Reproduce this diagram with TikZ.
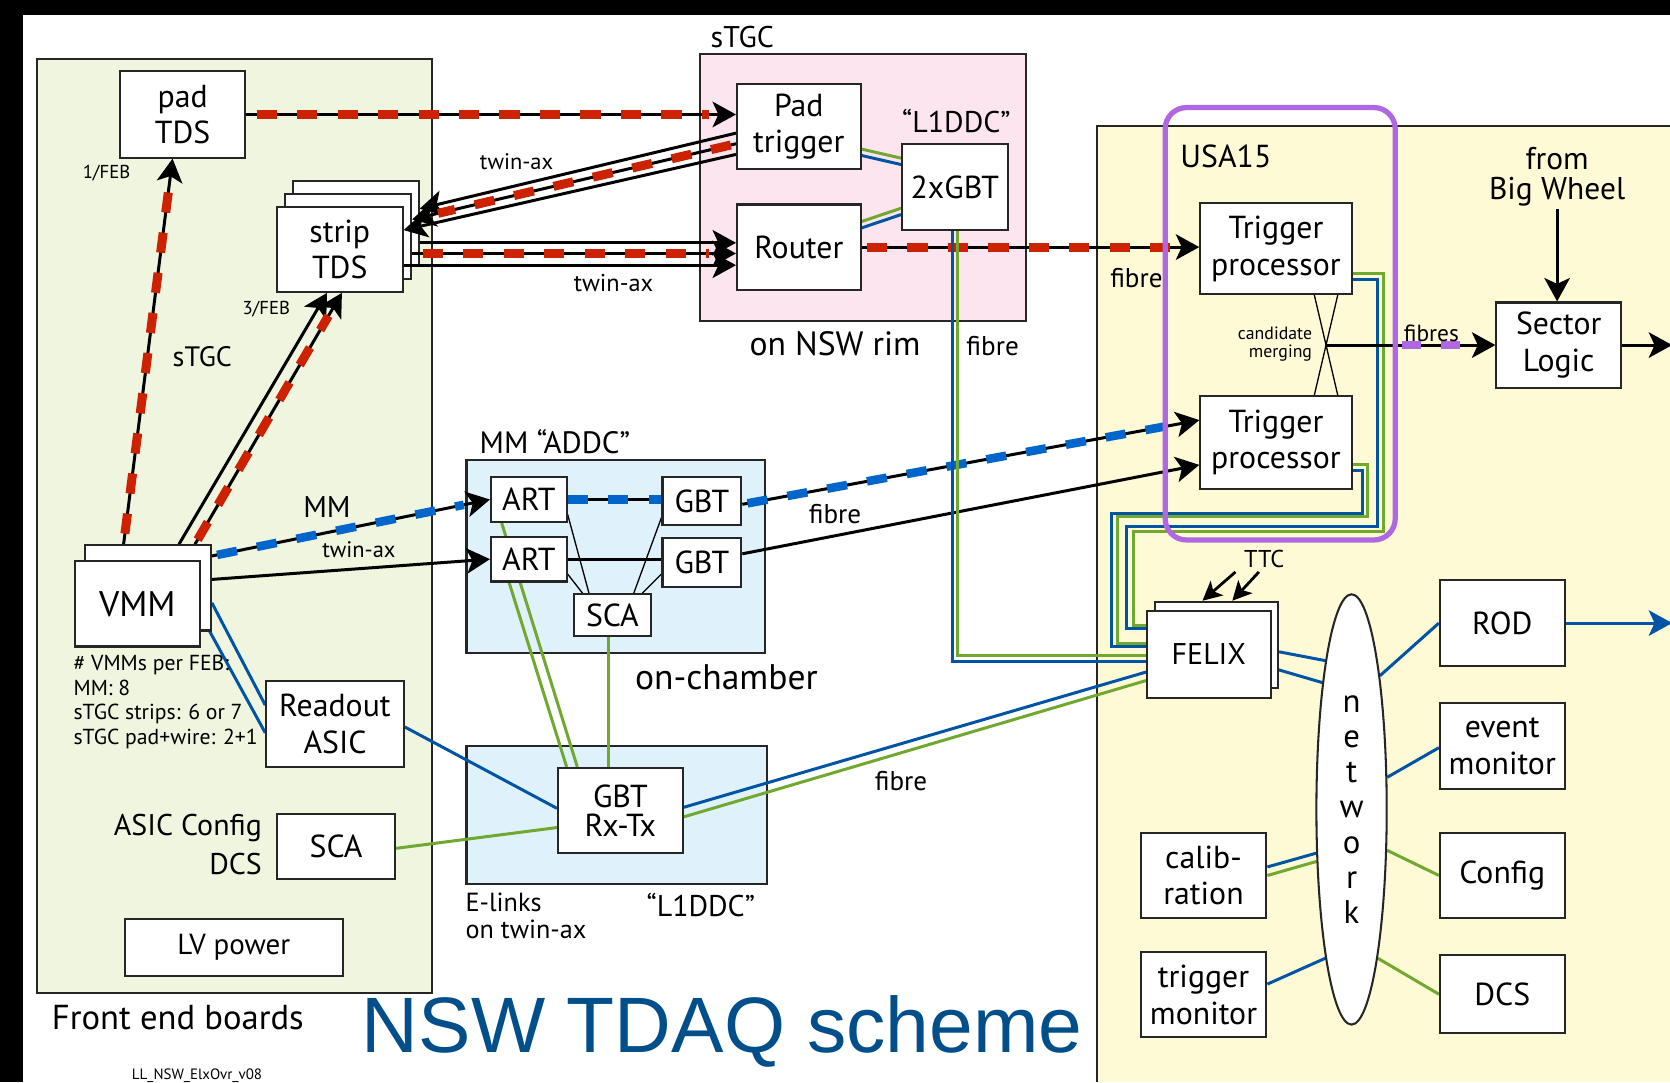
\documentclass[tikz,border=0pt]{standalone}
\usepackage{fontspec}
\setmainfont{PT Sans}
\newfontfamily\titlefont{Liberation Sans}
\usepackage{tikz}
\usetikzlibrary{arrows.meta,shapes.geometric,calc}
\definecolor{febgreen}{RGB}{239,245,222}
\definecolor{stgcpink}{RGB}{252,229,238}
\definecolor{chamberblue}{RGB}{223,242,251}
\definecolor{usayellow}{RGB}{255,250,214}
\definecolor{linkblue}{RGB}{0,84,166}
\definecolor{linkgreen}{RGB}{112,168,48}
\definecolor{dashred}{RGB}{204,34,0}
\definecolor{dashblue}{RGB}{0,102,204}
\definecolor{mergepurple}{RGB}{176,104,226}
\definecolor{titleblue}{RGB}{0,78,138}
\pgfdeclarelayer{groups}
\pgfdeclarelayer{wires}
\pgfsetlayers{groups,wires,main}
\tikzstyle{groupbox} = [draw=black!85, line width=1.1pt]
\tikzstyle{arrow} = [line width=1.6pt, -{Stealth[length=0.44cm,width=0.48cm,inset=0.11cm]}]
\tikzstyle{ttcarrow} = [line width=1.5pt, -{Stealth[length=0.36cm,width=0.36cm,inset=0.09cm]}]
\tikzstyle{wire} = [line width=1.6pt]
\tikzstyle{thinwire} = [line width=0.7pt]
\tikzstyle{reddash} = [dashred, line width=4.8pt, dash pattern=on 0.38cm off 0.38cm]
\tikzstyle{bluedash} = [dashblue, line width=4.6pt, dash pattern=on 0.38cm off 0.38cm]
\tikzstyle{purpledash} = [mergepurple, line width=4.4pt, dash pattern=on 0.36cm off 0.38cm]
\tikzstyle{fibreb} = [linkblue, line width=1.6pt]
\tikzstyle{fibreg} = [linkgreen, line width=1.6pt]
\tikzstyle{lbl} = [inner sep=1pt, align=center, font=\fontsize{16}{19}\selectfont]
\tikzset{module/.style 2 args={draw=black!85, fill=white, line width=1.1pt, inner sep=0pt, align=center,
  font=\fontsize{17}{19.5}\selectfont, minimum width=#1*0.02cm, minimum height=#2*0.02cm}}

\begin{document}
\begin{tikzpicture}[x=0.02cm, y=-0.02cm]
\useasboundingbox (0,0) rectangle (1568,1016);

% Frames and background
\begin{pgfonlayer}{groups}
\fill[white] (0,0) rectangle (1568,1016);
\fill[black] (0,0) rectangle (1568,14);
\fill[black] (0,0) rectangle (22,1016);
\draw[groupbox, fill=febgreen] (35,55) rectangle (406,932);
\draw[groupbox, fill=stgcpink] (657,51) rectangle (963,301);
\draw[groupbox, fill=chamberblue] (438,432) rectangle (718,613);
\draw[groupbox, fill=chamberblue] (438,700) rectangle (720,830);
\fill[usayellow] (1030,118) rectangle (1568,1016);
\draw[groupbox] (1030,1016) -- (1030,118) -- (1568,118);
\end{pgfonlayer}

% Front end boards
\node[module={117}{81}] (padtds) at (171.5,107.5) {pad\\TDS};
\node[module={118}{80}] (stripc) at (334,210) {};
\node[module={118}{80}] (stripb) at (327,222) {};
\node[module={118}{80}] (strip) at (319,234) {strip\\TDS};
\node[module={118}{80}] (vmmb) at (139,552) {};
\node[module={118}{80}, font=\fontsize{19}{22}\selectfont] (vmm) at (129,567) {VMM};
\node[module={129}{81}] (readout) at (314.5,679.5) {Readout\\ASIC};
\node[module={111}{61}] (febsca) at (315.5,794.5) {SCA};
\node[module={205}{53}, font=\fontsize{15.5}{18}\selectfont] (lvpower) at (219.5,889.5) {LV power};

\node[lbl, font=\fontsize{10}{12}\selectfont] (onefeb) at (100,163) {1/FEB};
\node[lbl, font=\fontsize{10}{12}\selectfont] (threefeb) at (250,290) {3/FEB};
\node[lbl, font=\fontsize{15}{18}\selectfont] (stgcwire) at (190,335) {sTGC};
\node[lbl] (mmwire) at (307,476) {MM};
\node[lbl, font=\fontsize{12}{14}\selectfont] (twinaxmm) at (337,516) {twin-ax};
\node[lbl, anchor=north west, align=left, font=\fontsize{11.6}{13.1}\selectfont] (vmmcount) at (67,613)
  {\# VMMs per FEB:\\MM: 8\\sTGC strips: 6 or 7\\sTGC pad+wire: 2+1};
\node[lbl, anchor=east, align=right, font=\fontsize{16}{21}\selectfont] (asiccfg) at (248,793) {ASIC Config\\DCS};
\node[lbl, font=\fontsize{18.5}{21}\selectfont] (feblbl) at (167,955) {Front end boards};
\node[lbl, font=\fontsize{8}{9}\selectfont] (version) at (185,1010) {LL\_NSW\_ElxOvr\_v08};
\node[lbl, font=\titlefont\fontsize{42}{46}\selectfont, text=titleblue] (title) at (678,968) {NSW TDAQ scheme};

% sTGC on NSW rim
\node[module={116}{80}] (padtrig) at (750,119) {Pad\\trigger};
\node[module={116}{80}] (router) at (750,232) {Router};
\node[module={99}{81}] (twogbt) at (896.5,175.5) {2xGBT};
\node[lbl] (stgclbl) at (697,35) {sTGC};
\node[lbl] (lddctop) at (898,114) {“L1DDC”};
\node[lbl, font=\fontsize{18}{21}\selectfont] (rimlbl) at (784,323) {on NSW rim};
\node[lbl, font=\fontsize{14.5}{16}\selectfont] (fibrerim) at (932,325) {fibre};
\node[lbl, font=\fontsize{12}{14}\selectfont] (twinaxup) at (485,152) {twin-ax};
\node[lbl, font=\fontsize{13}{15}\selectfont] (twinaxlow) at (576,266) {twin-ax};

% MM on chamber
\node[module={71}{42}] (arta) at (496.5,469) {ART};
\node[module={71}{42}] (artb) at (496.5,525) {ART};
\node[module={74}{45}] (gbta) at (659,470.5) {GBT};
\node[module={74}{46}] (gbtb) at (659,528) {GBT};
\node[module={72}{39}] (addcsca) at (575,577.5) {SCA};
\node[module={117}{80}, font=\fontsize{17}{15.5}\selectfont] (gbtrx) at (582.5,761) {GBT\\Rx-Tx};
\node[lbl, font=\fontsize{16.5}{19}\selectfont] (addclbl) at (521,415) {MM “ADDC”};
\node[lbl, font=\fontsize{19}{22}\selectfont] (chamberlbl) at (682,636) {on-chamber};
\node[lbl, anchor=north west, align=left, font=\fontsize{14}{14.5}\selectfont] (elinks) at (435,836) {E-links\\on twin-ax};
\node[lbl] (lddcbot) at (658,850) {“L1DDC”};
\node[lbl, font=\fontsize{14.5}{16}\selectfont] (fibremm) at (784,483) {fibre};
\node[lbl, font=\fontsize{14.5}{16}\selectfont] (fibrerx) at (846,733) {fibre};

% USA15
\node[module={142}{85}] (tpa) at (1198,233.5) {Trigger\\processor};
\node[module={142}{87}] (tpb) at (1198,415.5) {Trigger\\processor};
\node[module={117}{80}] (sl) at (1463.5,324) {Sector\\Logic};
\node[module={116}{81}] (felixb) at (1142,605.5) {};
\node[module={116}{81}, font=\fontsize{16}{19}\selectfont] (felix) at (1135,614.5) {FELIX};
\node[draw=black!85, fill=white, ellipse, line width=1.1pt, inner sep=0pt, align=center,
  minimum width=66*0.02cm, minimum height=404*0.02cm, font=\fontsize{17.5}{18.8}\selectfont]
  (net) at (1269,760) {n\\e\\t\\w\\o\\r\\k};
\node[module={117}{80}] (rod) at (1410.5,585) {ROD};
\node[module={117}{81}] (evmon) at (1410.5,700.5) {event\\monitor};
\node[module={117}{80}] (config) at (1410.5,822) {Config};
\node[module={117}{73}] (dcs) at (1410.5,933.5) {DCS};
\node[module={118}{80}] (calib) at (1130,822) {calib-\\ration};
\node[module={118}{80}] (trigmon) at (1130,934) {trigger\\monitor};
\node[lbl, font=\fontsize{17}{20}\selectfont] (usalbl) at (1151,147) {USA15};
\node[lbl, font=\fontsize{14.5}{16}\selectfont] (fibreusa) at (1067,261) {fibre};
\node[lbl, anchor=east, align=right, font=\fontsize{9.5}{9.8}\selectfont] (mergelbl) at (1234,323) {candidate\\merging};
\node[lbl, font=\fontsize{12.5}{14}\selectfont] (fibressl) at (1344,313) {fibres};
\node[lbl, font=\fontsize{16.8}{16.5}\selectfont] (bigwheel) at (1462,166) {from\\Big Wheel};
\node[lbl, font=\fontsize{13}{15}\selectfont] (ttclbl) at (1187,525) {TTC};
\coordinate (merge) at (1246,324);
\coordinate (ttca) at (1160,537);
\coordinate (ttcb) at (1182,537);
\coordinate (slout) at (1570,324);
\coordinate (rodout) at (1570,585);
\coordinate (scafoot) at ($(addcsca.south)+(-4,0)$);

\draw[mergepurple, line width=2.8pt, rounded corners=0.4cm] (1094,101) rectangle (1310,507);

% Strip TDS links, over the stacked boxes
\draw[arrow] ($(padtrig.west)+(0,6)$) -- ($(stripc.east)+(0,-14)$);
\draw[arrow] ($(padtrig.west)+(0,16)$) -- ($(stripb.east)+(0,-16)$);
\draw[reddash, shorten <=0.1cm, shorten >=0.5cm] ($(padtrig.west)+(0,16)$) -- ($(stripb.east)+(0,-16)$);
\draw[arrow] ($(padtrig.west)+(0,26)$) -- ($(strip.east)+(0,-18)$);
\draw[arrow] ($(stripc.east)+(0,18)$) -- ($(router.west)+(0,-4)$);
\draw[arrow] ($(stripb.east)+(0,16)$) -- ($(router.west)+(0,6)$);
\draw[reddash, shorten <=0.2cm, shorten >=0.5cm] ($(stripb.east)+(0,16)$) -- ($(router.west)+(0,6)$);
\draw[arrow] ($(strip.east)+(0,15)$) -- ($(router.west)+(0,17)$);

\begin{pgfonlayer}{wires}
% sTGC trigger path
\draw[arrow] (padtds.east) -- (padtds.east -| padtrig.west);
\draw[reddash, shorten <=0.2cm, shorten >=0.5cm] (padtds.east) -- (padtds.east -| padtrig.west);
\draw[arrow] (router.east) -- (router.east -| tpa.west);
\draw[reddash, shorten <=0.1cm, shorten >=0.5cm] (router.east) -- (router.east -| tpa.west);

% VMM outputs
\draw[arrow] ($(vmmb.north west)+(37,0)$) -- ($(padtds.south west)+(50,0)$);
\draw[reddash, shorten <=0.2cm, shorten >=0.5cm] ($(vmmb.north west)+(37,0)$) -- ($(padtds.south west)+(50,0)$);
\draw[arrow] ($(vmmb.north west)+(89,0)$) -- ($(strip.south west)+(48,0)$);
\draw[arrow] ($(vmmb.north west)+(104,0)$) -- ($(strip.south west)+(62,0)$);
\draw[reddash, shorten <=0.1cm, shorten >=0.5cm] ($(vmmb.north west)+(104,0)$) -- ($(strip.south west)+(62,0)$);
\draw[arrow] ($(vmmb.north east)+(0,11)$) -- (arta.west);
\draw[bluedash, shorten <=0.1cm, shorten >=0.5cm] ($(vmmb.north east)+(0,11)$) -- (arta.west);
\draw[arrow] ($(vmmb.north east)+(0,33)$) -- (artb.west);
\draw[fibreb] ($(vmmb.north east)+(0,55)$) -- ($(readout.north west)+(0,24)$);
\draw[fibreb] ($(vmmb.south east)+(-2,0)$) -- ($(readout.north west)+(0,50)$);
\draw[fibreb] ($(readout.east)+(0,3)$) -- ($(gbtrx.west)+(0,-2)$);
\draw[fibreg] ($(febsca.east)+(0,2)$) -- ($(gbtrx.west)+(0,16)$);

% ADDC internals
\draw[wire] (arta.east) -- (arta.east -| gbta.west);
\draw[bluedash] (arta.east) -- (arta.east -| gbta.west);
\draw[wire] (artb.east) -- (artb.east -| gbtb.west);
\draw[thinwire] ($(arta.south east)+(0,-8)$) -- ($(addcsca.north west)+(15,0)$);
\draw[thinwire] ($(artb.east)+(0,14)$) -- ($(addcsca.north west)+(9,0)$);
\draw[thinwire] ($(gbta.south west)+(0,-8)$) -- ($(addcsca.north west)+(57,0)$);
\draw[thinwire] ($(gbtb.west)+(0,11)$) -- ($(addcsca.north east)+(-9,0)$);
\draw[fibreg] ($(arta.south west)+(11,0)$) -- ($(gbtrx.north west)+(19,0)$);
\draw[fibreg] ($(artb.south west)+(18,0)$) -- ($(gbtrx.north west)+(9,0)$);
\draw[fibreg] (scafoot) -- (scafoot |- gbtrx.north);
\draw[arrow] ($(gbta.east)+(0,3)$) -- ($(tpb.west)+(0,-21)$);
\draw[bluedash, shorten <=0.1cm, shorten >=0.5cm] ($(gbta.east)+(0,3)$) -- ($(tpb.west)+(0,-21)$);
\draw[arrow] ($(gbtb.east)+(0,-8)$) -- ($(tpb.west)+(0,21)$);

% GBT links to FELIX
\draw[fibreg] ($(padtrig.east)+(0,21)$) -- ($(twogbt.west)+(0,-27)$);
\draw[fibreb] ($(padtrig.east)+(0,27)$) -- ($(twogbt.west)+(0,-21)$);
\draw[fibreg] ($(router.east)+(0,-24)$) -- ($(twogbt.west)+(0,20)$);
\draw[fibreb] ($(router.east)+(0,-18)$) -- ($(twogbt.west)+(0,26)$);
\draw[fibreb] ($(twogbt.south)+(-2.5,0)$) |- ($(felix.west)+(0,6.5)$);
\draw[fibreg] ($(twogbt.south)+(2.5,0)$) |- ($(felix.west)+(0,0.5)$);
\draw[fibreb] ($(gbtrx.east)+(0,-3)$) -- ($(felix.west)+(0,16.5)$);
\draw[fibreg] ($(gbtrx.east)+(0,6)$) -- ($(felix.west)+(0,24.5)$);
\draw[fibreg] ($(tpa.north east)+(0,67)$) -| (1299,499) -| (1064,587) -- ($(felix.west)+(0,-27.5)$);
\draw[fibreb] ($(tpa.north east)+(0,72)$) -| (1293,494) -| (1058,590) -- ($(felix.west)+(0,-24.5)$);
\draw[fibreg] ($(tpb.north east)+(0,65)$) -| (1284,485) -| (1049,604) -- ($(felix.west)+(0,-10.5)$);
\draw[fibreb] ($(tpb.north east)+(0,71)$) -| (1279,482) -| (1044,607) -- ($(felix.west)+(0,-7.5)$);

% Trigger merging
\draw[thinwire] ($(tpa.south west)+(108,0)$) -- ($(tpb.north west)+(130,0)$);
\draw[thinwire] ($(tpa.south west)+(130,0)$) -- ($(tpb.north west)+(108,0)$);
\draw[arrow] (merge) -- (sl.west);
\draw[purpledash, shorten <=1.4cm, shorten >=0.66cm] (merge) -- (sl.west);
\draw[arrow] (bigwheel.south) -- (bigwheel.south |- sl.north);
\draw[arrow] (sl.east) -- (slout);

% Network
\draw[ttcarrow] (ttca) -- ($(felixb.north west)+(46,0)$);
\draw[ttcarrow] (ttcb) -- ($(felixb.north west)+(74,0)$);
\draw[fibreb] ($(felixb.east)+(0,6.5)$) -- (net.100.5);
\draw[fibreb] ($(felix.east)+(0,12.5)$) -- (net.103);
\draw[fibreb] (rod.west) -- (net.78);
\draw[fibreb] ($(evmon.west)+(0,1.5)$) -- (net.42);
\draw[fibreg] (config.west) -- (net.-49);
\draw[fibreg] (dcs.west) -- (net.-80);
\draw[fibreb] ($(calib.east)+(0,-8)$) -- (net.231);
\draw[fibreg] (calib.east) -- (net.236);
\draw[fibreb] ($(trigmon.east)+(0,-10)$) -- (net.260);
\draw[fibreb, -{Stealth[length=0.44cm,width=0.48cm,inset=0.11cm]}] (rod.east) -- (rodout);
\end{pgfonlayer}
\end{tikzpicture}
\end{document}
